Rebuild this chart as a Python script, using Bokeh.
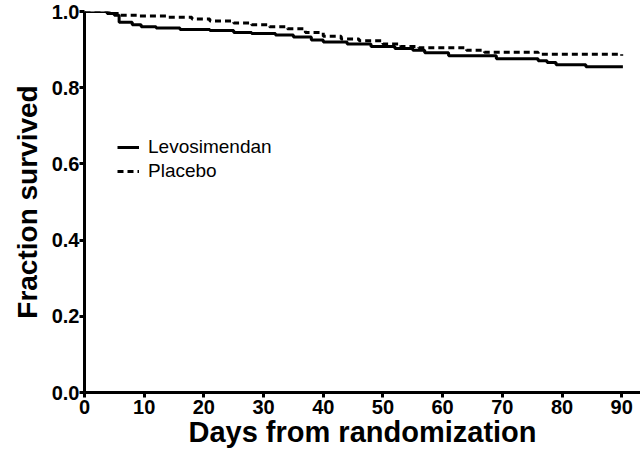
from bokeh.plotting import figure
from bokeh.models import FixedTicker, Legend, LegendItem, Range1d, NumeralTickFormatter
from bokeh.embed import file_html
from bokeh.resources import INLINE

# Kaplan-Meier step data (day, fraction surviving)
levo_days = [0, 3.8, 5.0, 5.8, 8, 9.5, 12, 16, 21, 25, 28, 32, 35, 38, 40, 44, 48, 52, 55, 57, 61, 69, 76, 77.5, 79, 84, 90.2]
levo_surv = [1.0, 0.995, 0.99, 0.972, 0.965, 0.960, 0.957, 0.953, 0.950, 0.945, 0.942, 0.938, 0.933, 0.925, 0.920, 0.915, 0.908, 0.903, 0.898, 0.892, 0.884, 0.876, 0.871, 0.866, 0.860, 0.855, 0.855]

plac_days = [0, 4.5, 6, 9, 14, 18, 21, 25, 28, 31, 34, 37, 40, 43, 46, 50, 53, 56, 64, 67, 76, 90]
plac_surv = [1.0, 0.995, 0.99, 0.988, 0.985, 0.98, 0.975, 0.970, 0.965, 0.96, 0.955, 0.945, 0.935, 0.928, 0.923, 0.915, 0.908, 0.905, 0.898, 0.893, 0.888, 0.884]

x_ticks = [0, 10, 20, 30, 40, 50, 60, 70, 80, 90]
y_ticks = [0.0, 0.2, 0.4, 0.6, 0.8, 1.0]

FONT = "Liberation Sans"

p = figure(width=640, height=453, output_backend="svg", toolbar_location=None,
           x_range=Range1d(0, 93.15), y_range=Range1d(0, 1.0),
           min_border_left=84, min_border_right=0, min_border_top=11, min_border_bottom=61)
p.outline_line_color = None
p.xgrid.visible = False
p.ygrid.visible = False

r1 = p.step(levo_days, levo_surv, mode="after", line_color="black", line_width=3)
r2 = p.step(plac_days, plac_surv, mode="after", line_color="black", line_width=3, line_dash="6 4")

for ax in (p.xaxis[0], p.yaxis[0]):
    ax.axis_line_width = 3
    ax.axis_line_color = "black"
    ax.major_tick_line_width = 3
    ax.major_tick_line_color = "black"
    ax.major_tick_in = 0
    ax.major_tick_out = 5
    ax.minor_tick_line_color = None
    ax.major_label_text_font = FONT
    ax.major_label_text_font_style = "bold"
    ax.major_label_text_font_size = "20px"
    ax.major_label_text_color = "black"
    ax.axis_label_text_font = FONT
    ax.axis_label_text_font_style = "bold"
    ax.axis_label_text_color = "black"

p.xaxis.axis_label_text_font_size = "29px"
p.yaxis.axis_label_text_font_size = "28px"
p.xaxis.ticker = FixedTicker(ticks=x_ticks)
p.yaxis.ticker = FixedTicker(ticks=y_ticks)
p.yaxis.formatter = NumeralTickFormatter(format="0.0")
p.xaxis.axis_label = "Days from randomization"
p.yaxis.axis_label = "Fraction survived"
p.xaxis.major_label_standoff = 2
p.xaxis.axis_label_standoff = -1
p.yaxis.major_label_standoff = 0
p.yaxis.axis_label_standoff = 6

legend = Legend(items=[LegendItem(label="Levosimendan", renderers=[r1]),
                       LegendItem(label="Placebo", renderers=[r2])],
                location=(33, 210), padding=0, margin=0, spacing=2,
                glyph_width=22, glyph_height=20, label_height=20, label_standoff=9,
                label_text_font=FONT, label_text_font_size="19px", label_text_color="black",
                background_fill_alpha=0, border_line_color=None)
p.add_layout(legend)

open("out.html", "w").write(file_html(p, INLINE))
